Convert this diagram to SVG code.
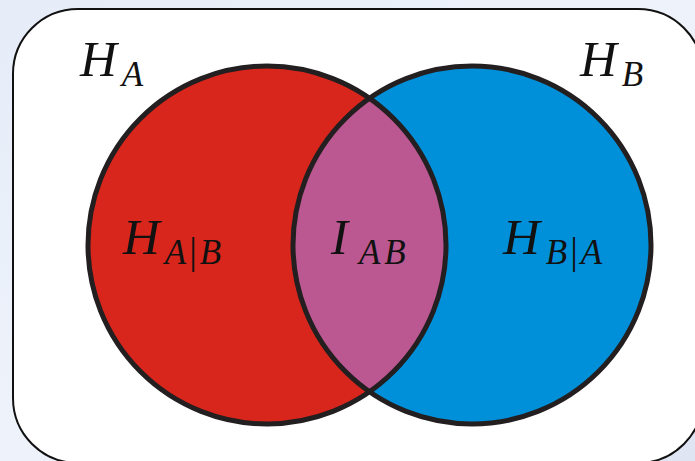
<svg xmlns="http://www.w3.org/2000/svg" width="695" height="461" viewBox="0 0 695 461">
<defs>
<linearGradient id="bg" x1="0" y1="0" x2="1" y2="1">
<stop offset="0" stop-color="#e6ecf8"/>
<stop offset="0.5" stop-color="#eef3fb"/>
<stop offset="1" stop-color="#dfe5f3"/>
</linearGradient>
<clipPath id="clipRed"><circle cx="267" cy="245" r="179"/></clipPath>
</defs>
<style>
.frame{fill:#ffffff;stroke:#111111;stroke-width:2}
.ring{stroke:#231f20;stroke-width:5;fill:none}
.m{font-family:"Liberation Serif","Times New Roman",serif;font-style:italic;fill:#111111}
.big{font-size:51px}
.sub{font-size:35px}
.bar{font-style:normal;font-size:38px}
</style>
<rect x="0" y="0" width="695" height="461" fill="url(#bg)"/>
<rect class="frame" x="13" y="9" width="690" height="454" rx="65" ry="65"/>
<g id="setA">
<circle cx="267" cy="245" r="179" fill="#d9261c"/>
</g>
<g id="setB">
<circle cx="472" cy="245" r="179" fill="#0090da"/>
</g>
<g id="intersection">
<circle cx="472" cy="245" r="179" fill="#bc5891" clip-path="url(#clipRed)"/>
</g>
<g id="outlines">
<circle class="ring" cx="267" cy="245" r="179"/>
<circle class="ring" cx="472" cy="245" r="179"/>
</g>
<g id="labelHA"><text class="m" x="80" y="76"><tspan class="big">H</tspan><tspan class="sub" dx="5" dy="10">A</tspan></text></g>
<g id="labelHB"><text class="m" x="580" y="76"><tspan class="big">H</tspan><tspan class="sub" dx="5" dy="10">B</tspan></text></g>
<g id="labelHAgB"><text class="m" x="123" y="254"><tspan class="big">H</tspan><tspan class="sub" dx="5" dy="10">A</tspan><tspan class="sub bar" dx="3">|</tspan><tspan class="sub" dx="3">B</tspan></text></g>
<g id="labelIAB"><text class="m" x="331" y="254"><tspan class="big">I</tspan><tspan class="sub" dx="11" dy="10" letter-spacing="4">AB</tspan></text></g>
<g id="labelHBgA"><text class="m" x="503" y="254"><tspan class="big">H</tspan><tspan class="sub" dx="6" dy="10">B</tspan><tspan class="sub bar" dx="3">|</tspan><tspan class="sub" dx="3">A</tspan></text></g>
</svg>
